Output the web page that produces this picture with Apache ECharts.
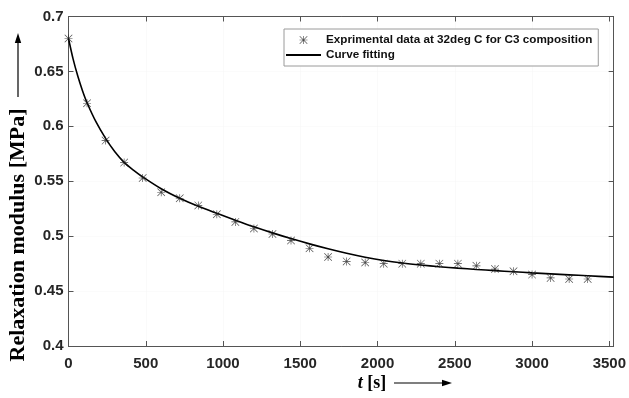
<!DOCTYPE html>
<html>
<head>
<meta charset="utf-8">
<script src="https://cdn.jsdelivr.net/npm/echarts@6/dist/echarts.min.js"></script>
<style>html,body{margin:0;padding:0;background:#fff;}#c{width:629px;height:398px;}</style>
</head>
<body>
<div id="c"></div>
<script>
// Experimental data (time in s, modulus in MPa)
const expTime = [0,120,240,360,480,600,720,840,960,1080,1200,1320,1440,1560,1680,1800,1920,2040,2160,2280,2400,2520,2640,2760,2880,3000,3120,3240,3360];
const expModulus = [0.680,0.621,0.587,0.567,0.553,0.540,0.5345,0.528,0.520,0.513,0.507,0.502,0.496,0.489,0.481,0.477,0.476,0.475,0.475,0.475,0.475,0.475,0.473,0.470,0.468,0.465,0.462,0.461,0.461];
// Fitted curve
const fitTime = [0,30,60,90,120,180,240,300,360,420,480,600,720,840,960,1080,1200,1320,1440,1560,1680,1800,1920,2040,2160,2280,2400,2520,2640,2760,2880,3000,3120,3240,3360,3528];
const fitModulus = [0.680,0.6612,0.6458,0.6327,0.6215,0.6035,0.5890,0.5768,0.5672,0.5602,0.5540,0.5432,0.5345,0.5272,0.5208,0.5146,0.5086,0.5030,0.4978,0.4930,0.4885,0.4844,0.4808,0.4778,0.4755,0.4737,0.4722,0.4709,0.4697,0.4686,0.4676,0.4666,0.4657,0.4648,0.4639,0.4627];
const xTicks = [0,500,1000,1500,2000,2500,3000,3500];
const yTicks = [0.4,0.45,0.5,0.55,0.6,0.65,0.7];
const seriesNames = ['Exprimental data at 32deg C for C3 composition','Curve fitting'];

const star = 'path://M9.2,0L10.8,0L10.8,20L9.2,20Z M0,9.2L20,9.2L20,10.8L0,10.8Z M0,1.1L1.1,0L20,18.9L18.9,20Z M18.9,0L20,1.1L1.1,20L0,18.9Z';
const axisCol = '#555';
const lblFont = {fontFamily:'Liberation Sans', fontWeight:'bold', fontSize:15, color:'#262626'};

const chart = echarts.init(document.getElementById('c'), null, {renderer:'canvas'});
chart.setOption({
  animation:false,
  backgroundColor:'#fff',
  grid:{left:68.5, right:15, top:16.5, bottom:52, containLabel:false},
  legend:{
    orient:'vertical', left:284, top:29,
    padding:[5,6,5,1], itemGap:3, itemWidth:35, itemHeight:8,
    backgroundColor:'#fff', borderColor:'#9a9a9a', borderWidth:1,
    textStyle:{fontFamily:'Liberation Sans', fontWeight:'bold', fontSize:11.7, color:'#111'},
    data:[{name:seriesNames[0]},{name:seriesNames[1], itemStyle:{opacity:0}}]
  },
  xAxis:[{
    type:'value', min:0, max:3528, interval:500,
    axisLine:{show:true, onZero:false, lineStyle:{color:axisCol, width:1}},
    axisTick:{show:true, inside:true, length:5, lineStyle:{color:axisCol}},
    axisLabel:Object.assign({margin:10, showMaxLabel:false, formatter:v => xTicks.includes(v) ? String(v) : ''}, lblFont),
    splitLine:{show:true, lineStyle:{color:'#f6f6f6', type:'dotted'}}
  },{
    type:'value', position:'top', min:0, max:3528, interval:500,
    axisLine:{show:true, onZero:false, lineStyle:{color:axisCol, width:1}},
    axisTick:{show:true, inside:true, length:5, lineStyle:{color:axisCol}},
    axisLabel:{show:false}, splitLine:{show:false}
  }],
  yAxis:[{
    type:'value', min:0.4, max:0.7, interval:0.05,
    axisLine:{show:true, onZero:false, lineStyle:{color:axisCol, width:1}},
    axisTick:{show:true, inside:true, length:5, lineStyle:{color:axisCol}},
    axisLabel:Object.assign({margin:5, formatter:v => {const r = yTicks.find(t => Math.abs(t - v) < 1e-6); return r === undefined ? '' : String(r);}}, lblFont),
    splitLine:{show:true, lineStyle:{color:'#f6f6f6', type:'dotted'}}
  },{
    type:'value', position:'right', min:0.4, max:0.7, interval:0.05,
    axisLine:{show:true, onZero:false, lineStyle:{color:axisCol, width:1}},
    axisTick:{show:true, inside:true, length:5, lineStyle:{color:axisCol}},
    axisLabel:{show:false}, splitLine:{show:false}
  }],
  series:[{
    name:seriesNames[0], type:'scatter',
    symbol:star, symbolSize:8, symbolKeepAspect:true,
    itemStyle:{color:'#1a1a1a'},
    data:expTime.map((t,i)=>[t, expModulus[i]]),
    z:3
  },{
    name:seriesNames[1], type:'line',
    showSymbol:false, symbol:'none', smooth:0.3,
    lineStyle:{color:'#000', width:1.6},
    itemStyle:{color:'#000'},
    data:fitTime.map((t,i)=>[t, fitModulus[i]]),
    z:2
  }],
  graphic:[
    {type:'text', x:18, y:235, rotation:Math.PI/2,
     style:{text:'Relaxation modulus [MPa]', fontFamily:'Liberation Serif', fontWeight:'bold', fontSize:22, fill:'#000', align:'center', verticalAlign:'middle'}},
    {type:'line', shape:{x1:18, y1:97, x2:18, y2:40}, style:{stroke:'#000', lineWidth:1.2}},
    {type:'polygon', shape:{points:[[18,33],[14.8,43],[21.2,43]]}, style:{fill:'#000'}},
    {type:'text', x:372, y:383,
     style:{text:'{i|t} [s]', fontFamily:'Liberation Serif', fontWeight:'bold', fontSize:18, fill:'#000', align:'center', verticalAlign:'middle',
            rich:{i:{fontFamily:'Liberation Serif', fontWeight:'bold', fontStyle:'italic', fontSize:18, fill:'#000'}}}},
    {type:'line', shape:{x1:394, y1:383, x2:445, y2:383}, style:{stroke:'#000', lineWidth:1.2}},
    {type:'polygon', shape:{points:[[452,383],[442,379.8],[442,386.2]]}, style:{fill:'#000'}}
  ]
});
</script>
</body>
</html>
